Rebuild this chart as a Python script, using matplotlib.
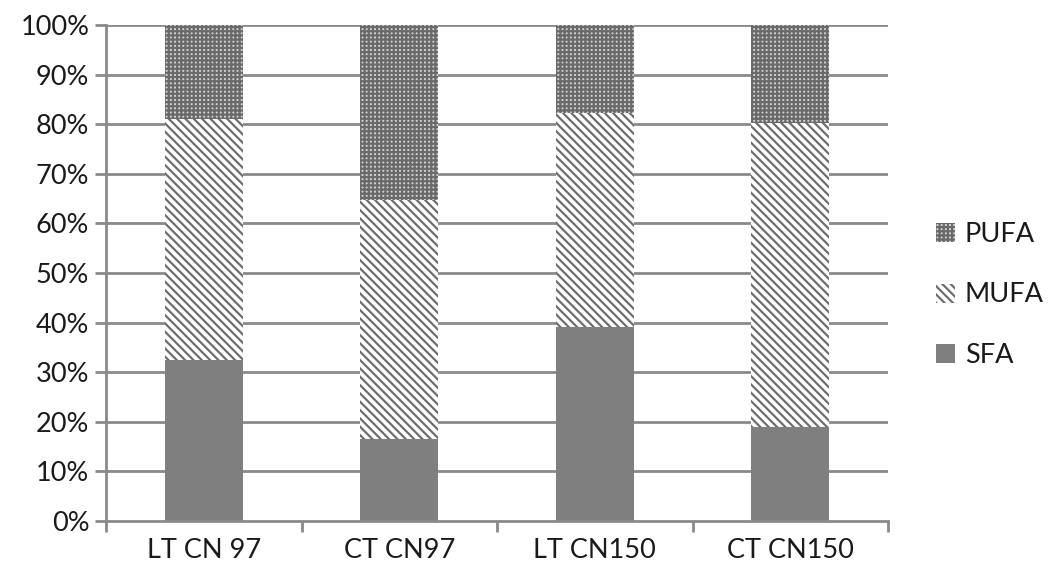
import matplotlib
matplotlib.use("Agg")
import matplotlib.pyplot as plt
import numpy as np

categories = ["LT CN 97", "CT CN97", "LT CN150", "CT CN150"]
sfa = [32.5, 16.5, 39.2, 19.0]
mufa = [48.5, 48.3, 43.1, 61.3]
pufa = [19.0, 35.2, 17.7, 19.7]
yticks = [0, 10, 20, 30, 40, 50, 60, 70, 80, 90, 100]

plt.rcParams['font.family'] = ['Lato', 'DejaVu Sans']
plt.rcParams['hatch.linewidth'] = 1.6

fig = plt.figure(figsize=(10.48, 5.68), dpi=100)
ax = fig.add_axes([106/1048, 1-521/568, (888-106)/1048, (521-25)/568])

x = np.arange(len(categories))
w = 0.4
gridc = '#8a8a8a'
txtc = '#1a1a1a'
fs = 19.5
for y in yticks[1:]:
    ax.axhline(y, color=gridc, lw=2, zorder=0)

b1 = ax.bar(x, sfa, w, color='#7f7f7f', edgecolor='none', label='SFA', zorder=2)
b2 = ax.bar(x, mufa, w, bottom=sfa, color='white', edgecolor='#6e6e6e', hatch='\\\\\\\\', lw=0, label='MUFA', zorder=2)
bot = np.array(sfa) + np.array(mufa)
b3 = ax.bar(x, pufa, w, bottom=bot, color='#d2d2d2', edgecolor='#6a6a6a', hatch='++++', lw=0, label='PUFA', zorder=2)

ax.set_xlim(-0.5, 3.5)
ax.set_ylim(0, 100)
ax.set_yticks(yticks)
ax.set_yticklabels([f"{v}%" for v in yticks], fontsize=fs, color=txtc)
ax.set_xticks(x)
ax.set_xticklabels(categories, fontsize=fs, color=txtc)
ax.tick_params(axis='x', length=0, pad=12)
ax.tick_params(axis='y', length=8, width=2, color=gridc, pad=4)
for s in ['top', 'right']:
    ax.spines[s].set_visible(False)
ax.spines['left'].set_color(gridc)
ax.spines['left'].set_linewidth(2)
ax.spines['bottom'].set_color(gridc)
ax.spines['bottom'].set_linewidth(2)
ax.set_xticks([-0.5, 0.5, 1.5, 2.5, 3.5], minor=True)
ax.tick_params(axis='x', which='minor', length=8, width=2, color=gridc)

leg = fig.legend(handles=[b3, b2, b1], labels=['PUFA', 'MUFA', 'SFA'],
                 loc='center left', bbox_to_anchor=(912/1048, 1-295/568),
                 frameon=False, fontsize=fs, labelspacing=1.3,
                 handlelength=0.7, handleheight=0.7, handletextpad=0.35)
for t in leg.get_texts():
    t.set_color(txtc)

fig.savefig('out.png', dpi=100)
